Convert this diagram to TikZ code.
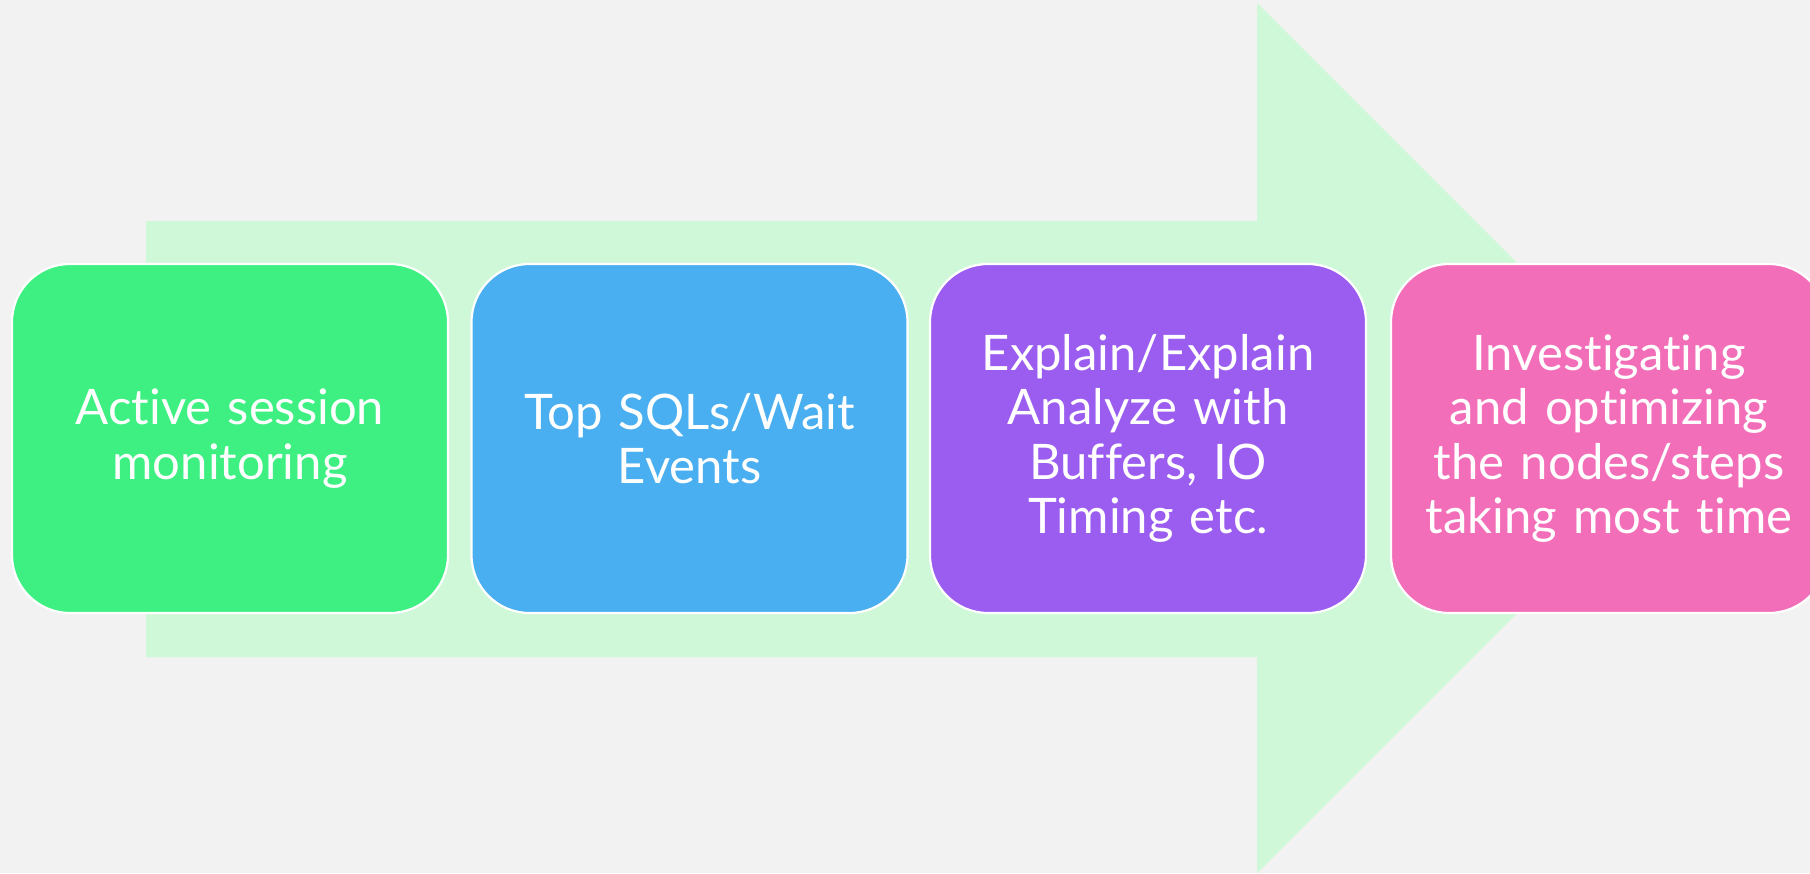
\documentclass[tikz,border=0pt]{standalone}
\usepackage{fontspec}
\setmainfont[Ligatures=NoCommon]{Lato}
\definecolor{bg}{HTML}{F1F2F1}
\definecolor{arrowc}{HTML}{CFF8D8}
\definecolor{cgreen}{HTML}{3DF081}
\definecolor{cblue}{HTML}{4AAFF0}
\definecolor{cpurple}{HTML}{9B5DF0}
\definecolor{cpink}{HTML}{F36EB8}
\tikzset{
  stagebox/.style={draw=white, line width=2.2pt, rounded corners=58pt,
    minimum width=436pt, minimum height=349pt, text width=430pt, align=center,
    text=white, inner sep=0pt, font=\fontsize{49}{54.5}\selectfont}
}
\begin{document}
\begin{tikzpicture}[x=1pt,y=-1pt]
\clip (0,0) rectangle (1810,873);
\fill[bg] (0,0) rectangle (1810,873);
\fill[arrowc] (146,221) -- (1257,221) -- (1257,3) -- (1692,438) -- (1257,873) -- (1257,657) -- (146,657) -- cycle;
\node[stagebox, fill=cgreen] (b1) at (230,438.5) {Active session\\monitoring};
\node[stagebox, fill=cblue] (b2) at (689.5,438.5) {Top SQLs/Wait\\Events};
\node[stagebox, fill=cpurple] (b3) at (1148,438.5) {Explain/Explain\\Analyze with\\Buffers, IO\\Timing etc.};
\node[stagebox, fill=cpink] (b4) at (1609,438.5) {Investigating\\and optimizing\\the nodes/steps\\taking most time};
\end{tikzpicture}
\end{document}
